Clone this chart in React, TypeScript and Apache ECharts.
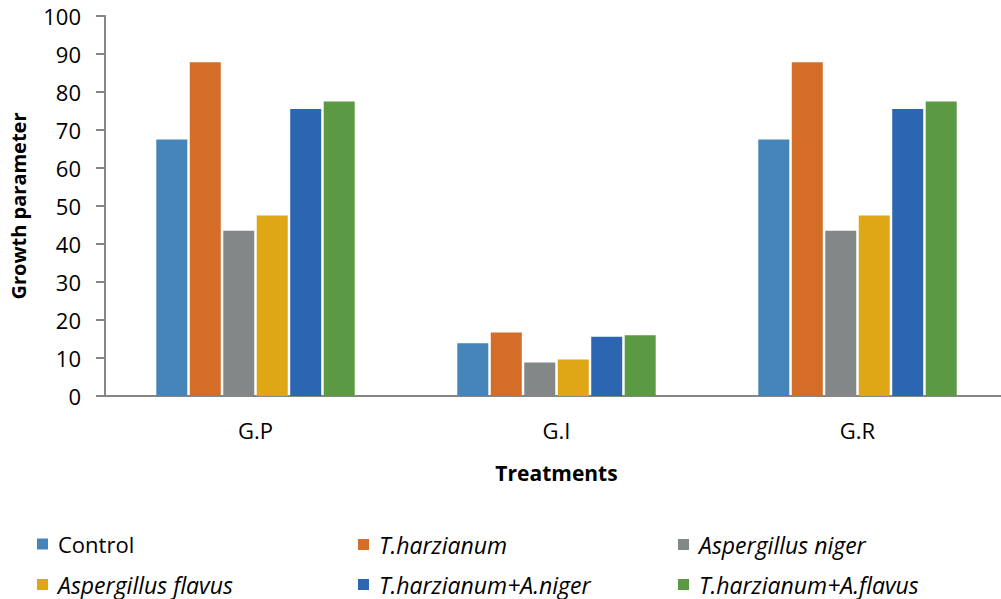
import React, { useEffect, useRef } from "react";
import * as echarts from "echarts";

// Treatment groups on the x axis
const categories = ["G.P", "G.I", "G.R"];

// Series names and their values per group
const seriesNames = [
  "Control",
  "T.harzianum",
  "Aspergillus niger",
  "Aspergillus flavus",
  "T.harzianum+A.niger",
  "T.harzianum+A.flavus",
];
const control = [67.5, 13.9, 67.5];
const tHarzianum = [87.8, 16.7, 87.8];
const aNiger = [43.5, 8.8, 43.5];
const aFlavus = [47.5, 9.6, 47.5];
const tHarzANiger = [75.5, 15.6, 75.5];
const tHarzAFlavus = [77.5, 16.0, 77.5];
const seriesValues = [control, tHarzianum, aNiger, aFlavus, tHarzANiger, tHarzAFlavus];

const colors = ["#4585BA", "#D36D27", "#848788", "#DFA616", "#2D66B0", "#5B9942"];

// Legend layout: three columns, two rows
const legendLeft = [37, 358, 678];
const legendTop = [533, 573];

const FONT = "'Open Sans', 'Noto Sans', sans-serif";

export default function App() {
  const ref = useRef<HTMLDivElement>(null);

  useEffect(() => {
    if (!ref.current) return;
    const chart = echarts.init(ref.current, undefined, { renderer: "svg" });

    const legends = seriesNames.map((name, i) => ({
      data: [name],
      left: legendLeft[i % 3],
      top: legendTop[Math.floor(i / 3)],
      itemWidth: 11,
      itemHeight: 11,
      icon: "rect",
      itemGap: 0,
      padding: 0,
      selectedMode: false,
      textStyle: {
        fontFamily: FONT,
        fontSize: i === 0 ? 22 : 23,
        color: "#000",
        fontStyle: i === 0 ? "normal" : "italic",
        padding: [0, 0, 0, 5],
      },
    }));

    chart.setOption({
      animation: false,
      backgroundColor: "#fff",
      color: colors,
      grid: {
        left: 105,
        top: 16,
        bottom: 203,
        right: 0,
        containLabel: false,
        outerBoundsMode: "none",
      },
      legend: legends,
      xAxis: {
        type: "category",
        data: categories,
        name: "Treatments",
        nameLocation: "middle",
        nameGap: 66,
        nameTextStyle: { fontFamily: FONT, fontSize: 21, fontWeight: "bold", color: "#000" },
        axisLine: { lineStyle: { color: "#868686", width: 2 } },
        axisTick: { show: false },
        axisLabel: { fontFamily: FONT, fontSize: 22, color: "#000", margin: 23 },
      },
      yAxis: {
        type: "value",
        min: 0,
        max: 100,
        interval: 10,
        name: "Growth parameter",
        nameLocation: "middle",
        nameGap: 77,
        nameTextStyle: { fontFamily: FONT, fontSize: 20, fontWeight: "bold", color: "#000" },
        axisLine: { show: true, lineStyle: { color: "#868686", width: 2 } },
        axisTick: { show: true, length: 9, lineStyle: { color: "#868686", width: 2 } },
        splitLine: { show: false },
        axisLabel: { fontFamily: FONT, fontSize: 22, color: "#000", margin: 24 },
      },
      series: seriesNames.map((name, i) => ({
        name,
        type: "bar",
        data: seriesValues[i],
        barWidth: 31,
        barGap: "8%",
        itemStyle: { color: colors[i] },
      })),
    });

    return () => chart.dispose();
  }, []);

  // The plot runs slightly past the right edge, so the chart is wider than the clipped frame
  return (
    <div
      style={{
        position: "absolute",
        left: 0,
        top: 0,
        width: 1001,
        height: 599,
        overflow: "hidden",
      }}
    >
      <div ref={ref} style={{ width: 1008, height: 599 }} />
    </div>
  );
}
